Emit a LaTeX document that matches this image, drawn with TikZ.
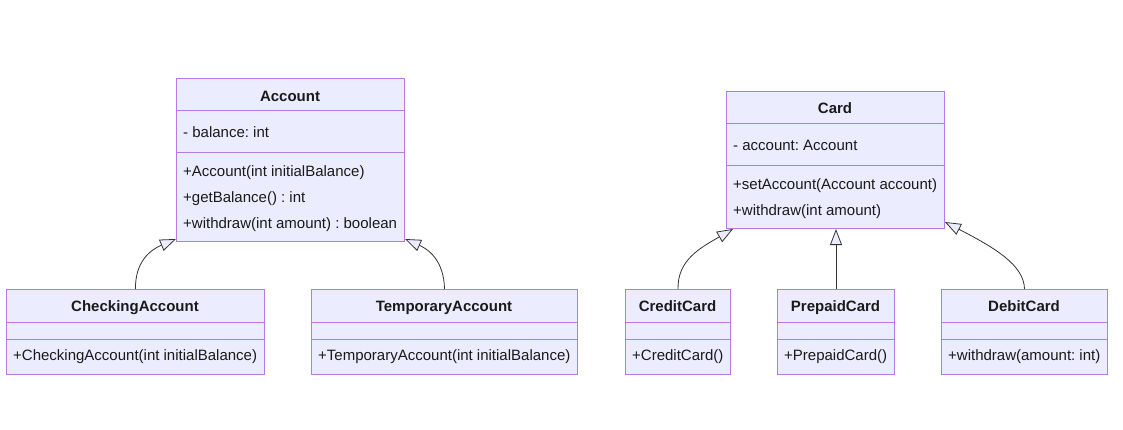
\documentclass[tikz,border=0pt]{standalone}
\usepackage{fontspec}
\setmainfont{Liberation Sans}
\usetikzlibrary{arrows.meta}
\definecolor{boxfill}{HTML}{ECECFF}
\definecolor{boxline}{HTML}{B57AE6}
\definecolor{edge}{HTML}{333333}
\definecolor{ink}{HTML}{1A1A1A}
\tikzset{
  classbox/.style={draw=boxline, fill=boxfill, line width=1pt, inner sep=0pt, anchor=north west},
  divider/.style={draw=boxline, line width=1pt},
  title/.style={anchor=base, font=\bfseries\fontsize{15}{17}\selectfont, text=ink, inner sep=0pt},
  member/.style={anchor=base west, font=\fontsize{15}{17}\selectfont, text=ink, inner sep=0pt},
  inherit/.style={draw=edge, line width=0.8pt, -{Triangle[length=16pt,width=12pt,fill=boxfill]}},
}
\newcommand{\compartments}[3]{% node, first divider offset, second divider offset
  \draw[divider] ([yshift=-#2]#1.north west) -- ([yshift=-#2]#1.north east);
  \draw[divider] ([yshift=-#3]#1.north west) -- ([yshift=-#3]#1.north east);
}
\begin{document}
\frenchspacing
\begin{tikzpicture}[x=1pt,y=-1pt]
\useasboundingbox[fill=white] (0,0) rectangle (1123,430);

% Account
\node[classbox, minimum width=228pt, minimum height=163pt] (acc) at (176,78) {};
\compartments{acc}{33pt}{75pt}
\node[title] (acc-t) at (290,101.5) {Account};
\node[member] (acc-a1) at (183,137.5) {- balance: int};
\node[member] (acc-m1) at (183,176.5) {+Account(int initialBalance)};
\node[member] (acc-m2) at (183,202.5) {+getBalance() : int};
\node[member] (acc-m3) at (183,228.5) {+withdraw(int amount) : boolean};

% Card
\node[classbox, minimum width=218pt, minimum height=137pt] (card) at (726,91) {};
\compartments{card}{33pt}{75pt}
\node[title] (card-t) at (835,113.5) {Card};
\node[member] (card-a1) at (733,150.5) {- account: Account};
\node[member] (card-m1) at (733,189.5) {+setAccount(Account account)};
\node[member] (card-m2) at (733,215.5) {+withdraw(int amount)};

% CheckingAccount
\node[classbox, minimum width=258pt, minimum height=85pt] (chk) at (6,289) {};
\compartments{chk}{33pt}{50pt}
\node[title] (chk-t) at (135,311.5) {CheckingAccount};
\node[member] (chk-m1) at (13,360.5) {+CheckingAccount(int initialBalance)};

% TemporaryAccount
\node[classbox, minimum width=266pt, minimum height=85pt] (tmp) at (311,289) {};
\compartments{tmp}{33pt}{50pt}
\node[title] (tmp-t) at (444,311.5) {TemporaryAccount};
\node[member] (tmp-m1) at (318,360.5) {+TemporaryAccount(int initialBalance)};

% CreditCard
\node[classbox, minimum width=105pt, minimum height=85pt] (cc) at (625,289) {};
\compartments{cc}{33pt}{50pt}
\node[title] (cc-t) at (677.5,311.5) {CreditCard};
\node[member] (cc-m1) at (632,360.5) {+CreditCard()};

% PrepaidCard
\node[classbox, minimum width=117pt, minimum height=85pt] (pre) at (777,289) {};
\compartments{pre}{33pt}{50pt}
\node[title] (pre-t) at (835.5,311.5) {PrepaidCard};
\node[member] (pre-m1) at (784,360.5) {+PrepaidCard()};

% DebitCard
\node[classbox, minimum width=166pt, minimum height=85pt] (deb) at (941,289) {};
\compartments{deb}{33pt}{50pt}
\node[title] (deb-t) at (1024,311.5) {DebitCard};
\node[member] (deb-m1) at (948,360.5) {+withdraw(amount: int)};

% generalisation arrows
\draw[inherit] (chk.north) .. controls (135,262) and (150,250) .. ([yshift=3pt]acc.south west);
\draw[inherit] (tmp.north) .. controls (444,262) and (430,250) .. ([yshift=3pt]acc.south east);
\draw[inherit] (cc.north) .. controls (677.5,260) and (700,248) .. ([xshift=7pt]card.south west);
\draw[inherit] (pre.north) -- (pre.north |- card.south);
\draw[inherit] (deb.north) .. controls (1024,265) and (995,248) .. ([yshift=7pt]card.south east);
\end{tikzpicture}
\end{document}
